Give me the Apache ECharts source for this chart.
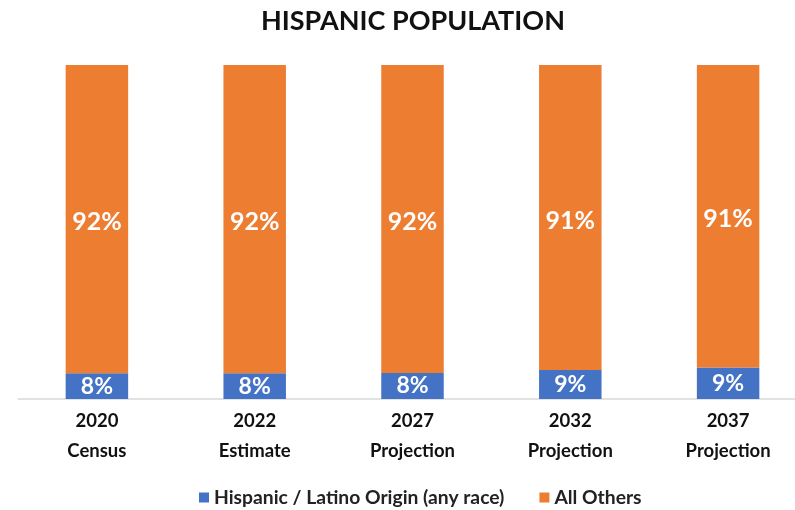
<!DOCTYPE html>
<html>
<head>
<meta charset="utf-8">
<script src="https://cdn.jsdelivr.net/npm/echarts@6/dist/echarts.min.js"></script>
<style>
  html, body { margin: 0; padding: 0; background: #fff; }
  #chart { width: 795px; height: 510px; }
</style>
</head>
<body>
<div id="chart"></div>
<script>
const categories = ['2020\nCensus', '2022\nEstimate', '2027\nProjection', '2032\nProjection', '2037\nProjection'];
const hispanic = [7.7, 7.7, 7.8, 8.7, 9.4];
const allOthers = [92.3, 92.3, 92.2, 91.3, 90.6];

const font = 'Lato, "Open Sans", sans-serif';
const myChart = echarts.init(document.getElementById('chart'));

const pctLabel = size => ({
  show: true,
  position: 'inside',
  color: '#fff',
  fontFamily: font,
  fontWeight: 'bold',
  fontSize: size,
  formatter: p => Math.round(p.value) + '%',
});

const option = {
  animation: false,
  title: {
    text: 'HISPANIC POPULATION',
    left: 256,
    top: 3,
    textStyle: { fontFamily: font, fontWeight: 'bold', fontSize: 27, color: '#111' },
  },
  legend: {
    data: ['Hispanic / Latino Origin (any race)', 'All Others'],
    left: 194,
    top: 483,
    itemWidth: 10,
    itemHeight: 10,
    itemGap: 35,
    icon: 'rect',
    textStyle: { fontFamily: font, fontWeight: 'bold', fontSize: 19.3, color: '#222' },
  },
  grid: { left: 18, width: 789, top: 65, bottom: 111, outerBoundsMode: 'none', containLabel: false },
  xAxis: {
    type: 'category',
    data: categories,
    axisLine: { lineStyle: { color: '#d9d9d9', width: 1.5 } },
    axisTick: { show: false },
    axisLabel: {
      fontFamily: font,
      fontWeight: 'bold',
      fontSize: 18.5,
      color: '#111',
      lineHeight: 30,
      margin: 7,
      interval: 0,
    },
  },
  yAxis: { type: 'value', min: 0, max: 100, show: false, splitLine: { show: false } },
  series: [
    {
      name: 'Hispanic / Latino Origin (any race)',
      type: 'bar',
      stack: 'total',
      data: hispanic,
      barWidth: '39.6%',
      itemStyle: { color: '#4472C4' },
      label: pctLabel(23),
    },
    {
      name: 'All Others',
      type: 'bar',
      stack: 'total',
      data: allOthers,
      itemStyle: { color: '#ED7D31' },
      label: Object.assign(pctLabel(25), { offset: [0, 3] }),
    },
  ],
};

myChart.setOption(option);
window.addEventListener('resize', myChart.resize);
</script>
</body>
</html>
